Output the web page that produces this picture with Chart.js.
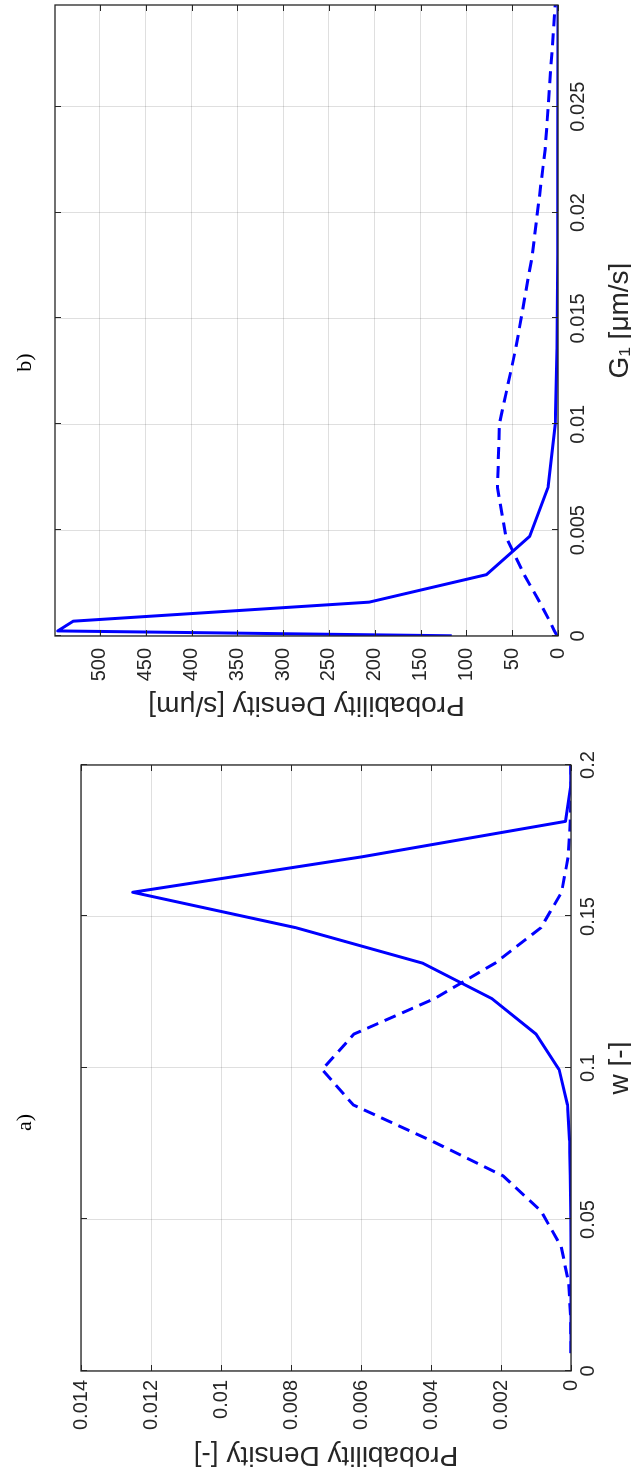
<!DOCTYPE html>
<html lang="en">
<head>
<meta charset="UTF-8">
<title>Probability Density</title>
<script src="https://cdn.jsdelivr.net/npm/chart.js@4.4.1/dist/chart.umd.min.js"></script>
<style>
  html, body { margin: 0; padding: 0; background: #fff; overflow: hidden; }
  /* figure is drawn landscape, then turned a quarter to the left */
  #fig { position: absolute; left: 0; top: 0; width: 1480px; height: 631px;
         transform-origin: 0 0; transform: translate(0, 1480px) rotate(-90deg); }
  #fig canvas { position: absolute; top: 0; }
  #chartA { left: 0; }
  #chartB { left: 760px; }
</style>
</head>
<body>
<div id="fig">
  <canvas id="chartA" width="742" height="631"></canvas>
  <canvas id="chartB" width="720" height="631"></canvas>
</div>
<script>
// a) w [-]
const wValues      = [0.0059, 0.0176, 0.0293, 0.041, 0.0527, 0.0644, 0.0761, 0.0878, 0.0995, 0.1112, 0.1229, 0.1346, 0.1463, 0.158, 0.1697, 0.1814, 0.1931, 0.2048];
const wDensSolid   = [0, 0, 0, 0, 0.00001, 0.00002, 0.00004, 0.0001, 0.00034, 0.001, 0.00226, 0.00424, 0.00786, 0.01252, 0.00597, 0.00016, 0.00001, 0];
const wDensDashed  = [0, 0.00001, 0.00007, 0.00028, 0.00085, 0.00194, 0.00401, 0.00622, 0.00711, 0.0062, 0.0039, 0.00217, 0.00086, 0.00027, 0.00008, 0.00002, 0, 0];
const wAxis = {min: 0, max: 0.2, step: 0.05};
const wDensAxis = {min: 0, max: 0.014, step: 0.002};

// b) G1 [um/s]
const gValues      = [0.00001, 0.00024, 0.0007, 0.0016, 0.0029, 0.0047, 0.007, 0.01, 0.0136, 0.018, 0.023, 0.0298];
const gDensSolid   = [116, 546, 529, 206, 78, 31, 11, 3, 1, 0.4, 0.2, 0.1];
const gDensDashed  = [1, 4, 9, 20, 37, 57, 66, 64, 46, 28, 14, 3];
const gAxis = {min: 0, max: 0.0298, step: 0.005};
const gDensAxis = {min: 0, max: 549, step: 50};

const BLUE = '#0000ff';
const TEXT = '#262626';
const SANS = "'Liberation Sans', Arial, sans-serif";
const SERIF = "'Liberation Serif', 'Times New Roman', serif";

const fmt = v => String(+Number(v).toFixed(6));
const pts = (xs, ys) => xs.map((x, i) => ({x: x, y: ys[i]}));

// ticks every step from min, not stretched to fit max
function fixedTicks(ax) {
  return s => {
    const t = [];
    for (let k = 0; ax.min + k * ax.step <= ax.max + 1e-9; k++) t.push({value: +(ax.min + k * ax.step).toFixed(6)});
    s.ticks = t;
  };
}

// matlab style box with inward ticks
const boxPlugin = {
  id: 'box',
  afterDatasetsDraw(chart) {
    const {ctx, chartArea: a, scales} = chart;
    ctx.save();
    ctx.strokeStyle = TEXT;
    ctx.lineWidth = 1;
    ctx.beginPath();
    scales.x.ticks.forEach(t => {
      const p = Math.round(scales.x.getPixelForValue(t.value)) + 0.5;
      ctx.moveTo(p, a.bottom); ctx.lineTo(p, a.bottom - 6);
      ctx.moveTo(p, a.top); ctx.lineTo(p, a.top + 6);
    });
    scales.y.ticks.forEach(t => {
      const p = Math.round(scales.y.getPixelForValue(t.value)) + 0.5;
      ctx.moveTo(a.left, p); ctx.lineTo(a.left + 6, p);
      ctx.moveTo(a.right, p); ctx.lineTo(a.right - 6, p);
    });
    ctx.stroke();
    ctx.lineWidth = 1.3;
    ctx.strokeRect(a.left, a.top, a.right - a.left, a.bottom - a.top);
    ctx.restore();
  }
};

function makeChart(id, o) {
  return new Chart(document.getElementById(id), {
    type: 'line',
    data: {
      datasets: [
        {data: pts(o.xs, o.solid), borderColor: BLUE, borderWidth: 3, pointRadius: 0, borderJoinStyle: 'round'},
        {data: pts(o.xs, o.dashed), borderColor: BLUE, borderWidth: 3, pointRadius: 0, borderDash: [12, 7]}
      ]
    },
    options: {
      responsive: false,
      animation: false,
      events: [],
      layout: {padding: {left: 0, right: o.padRight, top: 0, bottom: 0}},
      plugins: {
        legend: {display: false},
        tooltip: {enabled: false},
        title: {
          display: true, text: o.title, color: '#000',
          font: {family: SERIF, size: 22, weight: 'normal', lineHeight: 1.2},
          padding: {top: 11.8, bottom: o.titleBottom}
        }
      },
      scales: {
        x: {
          type: 'linear', min: o.xAxis.min, max: o.xAxis.max,
          grid: {color: 'rgba(38,38,38,0.15)', drawTicks: false},
          border: {display: false},
          ticks: {maxRotation: 0, autoSkip: false,
                  padding: o.xTickPad, color: TEXT, font: {family: SANS, size: 20}, callback: fmt},
          title: {display: true, text: o.xTitle, color: TEXT, padding: 0,
                  font: {family: SANS, size: 28, lineHeight: 0.8}},
          afterBuildTicks: fixedTicks(o.xAxis),
          afterFit: s => { s.height = o.xHeight; }
        },
        y: {
          min: o.yAxis.min, max: o.yAxis.max,
          grid: {color: 'rgba(38,38,38,0.15)', drawTicks: false},
          border: {display: false},
          ticks: {autoSkip: false,
                  padding: o.yTickPad, color: TEXT, font: {family: SANS, size: 20}, callback: fmt},
          title: {display: true, text: o.yTitle, color: TEXT, padding: {top: o.yTitlePad},
                  font: {family: SANS, size: 28, lineHeight: 0.8}},
          afterBuildTicks: fixedTicks(o.yAxis),
          afterFit: s => { s.width = o.yWidth; }
        }
      }
    },
    plugins: [boxPlugin]
  });
}

makeChart('chartA', {
  xs: wValues, solid: wDensSolid, dashed: wDensDashed,
  xAxis: wAxis, yAxis: wDensAxis,
  title: 'a)', titleBottom: 42.8,
  xTitle: 'w [-]', yTitle: 'Probability Density [-]',
  padRight: 27, xHeight: 60, yWidth: 109, xTickPad: 5, yTickPad: 9, yTitlePad: 13.8
});

makeChart('chartB', {
  xs: gValues, solid: gDensSolid, dashed: gDensDashed,
  xAxis: gAxis, yAxis: gDensAxis,
  title: 'b)', titleBottom: 16.8,
  xTitle: 'G\u2081 [\u03BCm/s]', yTitle: 'Probability Density [s/\u03BCm]',
  padRight: 5, xHeight: 73, yWidth: 84, xTickPad: 8, yTickPad: 12, yTitlePad: 3.8
});
</script>
</body>
</html>
